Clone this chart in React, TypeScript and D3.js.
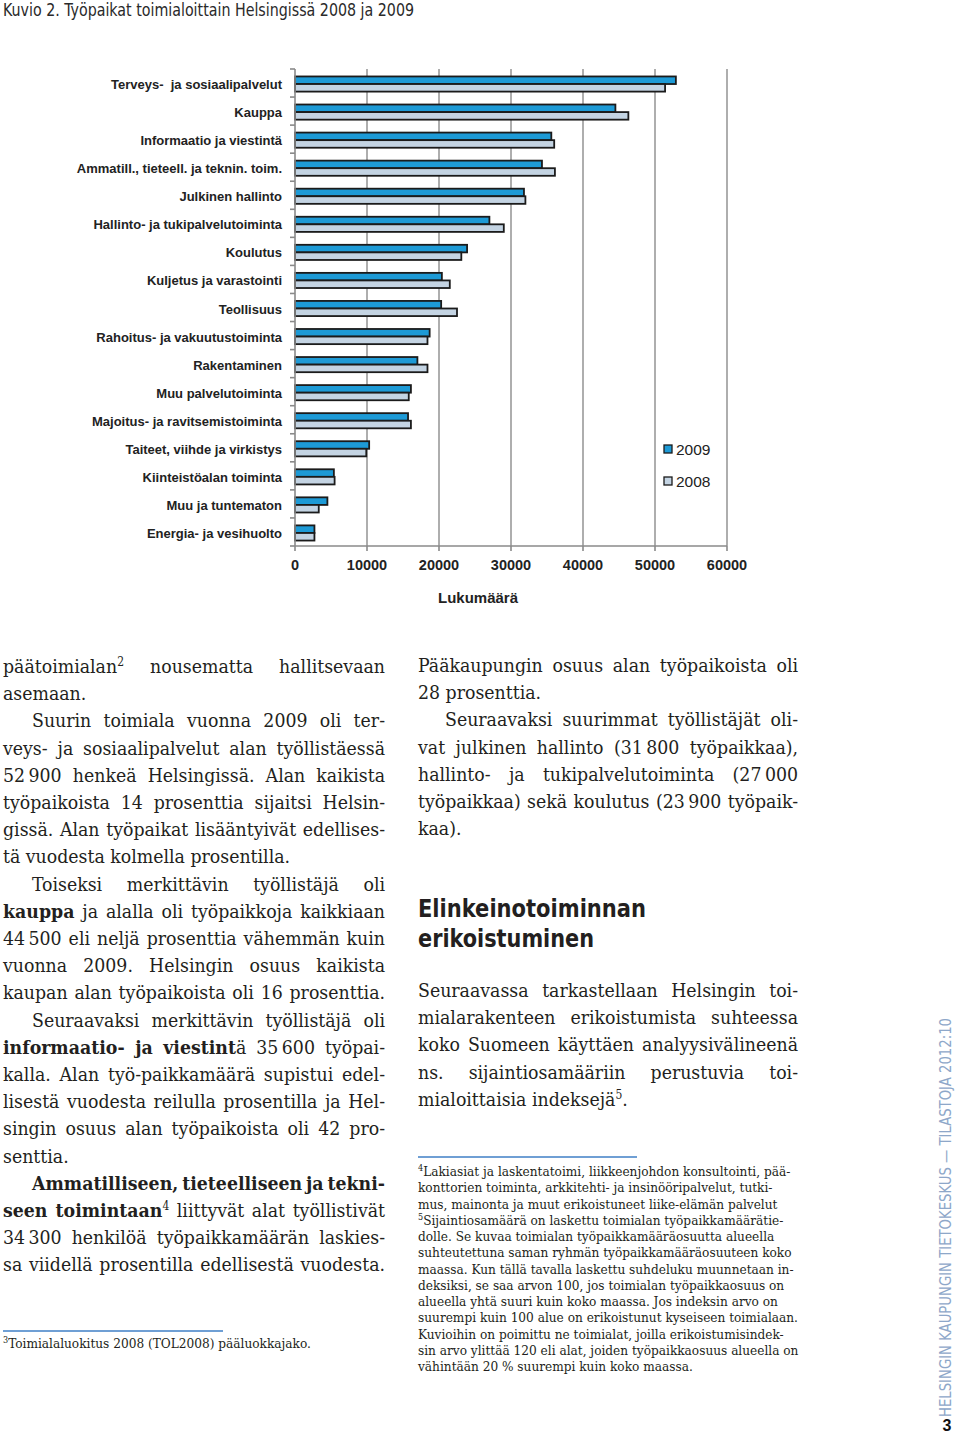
import React, { useLayoutEffect, useRef } from "react";
import * as d3 from "d3";

// ---------- Chart data ----------
const categories = [
  "Terveys-  ja sosiaalipalvelut",
  "Kauppa",
  "Informaatio ja viestintä",
  "Ammatill., tieteell. ja teknin. toim.",
  "Julkinen hallinto",
  "Hallinto- ja tukipalvelutoiminta",
  "Koulutus",
  "Kuljetus ja varastointi",
  "Teollisuus",
  "Rahoitus- ja vakuutustoiminta",
  "Rakentaminen",
  "Muu palvelutoiminta",
  "Majoitus- ja ravitsemistoiminta",
  "Taiteet, viihde ja virkistys",
  "Kiinteistöalan toiminta",
  "Muu ja tuntematon",
  "Energia- ja vesihuolto",
];
const values2009 = [52900, 44500, 35600, 34300, 31800, 27000, 23900, 20400, 20300, 18700, 17000, 16100, 15700, 10300, 5400, 4500, 2700];
const values2008 = [51400, 46300, 36000, 36100, 32000, 29000, 23100, 21500, 22500, 18400, 18400, 15800, 16100, 9900, 5500, 3300, 2700];
const years = ["2009", "2008"];
const legendOrder = ["2009", "2008"];
const xTicks = [0, 10000, 20000, 30000, 40000, 50000, 60000];

const title = "Kuvio 2. Työpaikat toimialoittain Helsingissä 2008 ja 2009";
const axisTitle = "Lukumäärä";

// ---------- Page text ----------
type Line = { t: string; indent?: boolean; justify?: boolean };
const leftColumn: Line[] = [
  { t: "päätoimialan^2 nousematta hallitsevaan", justify: true },
  { t: "asemaan." },
  { t: "Suurin toimiala vuonna 2009 oli ter-", indent: true, justify: true },
  { t: "veys- ja sosiaalipalvelut alan työllistäessä", justify: true },
  { t: "52\u202F900 henkeä Helsingissä. Alan kaikista", justify: true },
  { t: "työpaikoista 14 prosenttia sijaitsi Helsin-", justify: true },
  { t: "gissä. Alan työpaikat lisääntyivät edellises-", justify: true },
  { t: "tä vuodesta kolmella prosentilla." },
  { t: "Toiseksi merkittävin työllistäjä oli", indent: true, justify: true },
  { t: "**kauppa** ja alalla oli työpaikkoja kaikkiaan", justify: true },
  { t: "44\u202F500 eli neljä prosenttia vähemmän kuin", justify: true },
  { t: "vuonna 2009. Helsingin osuus kaikista", justify: true },
  { t: "kaupan alan työpaikoista oli 16 prosenttia.", justify: true },
  { t: "Seuraavaksi merkittävin työllistäjä oli", indent: true, justify: true },
  { t: "**informaatio- ja viestint**ä 35\u202F600 työpai-", justify: true },
  { t: "kalla. Alan työ-paikkamäärä supistui edel-", justify: true },
  { t: "lisestä vuodesta reilulla prosentilla ja Hel-", justify: true },
  { t: "singin osuus alan työpaikoista oli 42 pro-", justify: true },
  { t: "senttia." },
  { t: "**Ammatilliseen, tieteelliseen ja tekni-**", indent: true, justify: true },
  { t: "**seen toimintaan**^4 liittyvät alat työllistivät", justify: true },
  { t: "34\u202F300 henkilöä työpaikkamäärän laskies-", justify: true },
  { t: "sa viidellä prosentilla edellisestä vuodesta.", justify: true },
];
const rightColumnTop: Line[] = [
  { t: "Pääkaupungin osuus alan työpaikoista oli", justify: true },
  { t: "28 prosenttia." },
  { t: "Seuraavaksi suurimmat työllistäjät oli-", indent: true, justify: true },
  { t: "vat julkinen hallinto (31\u202F800 työpaikkaa),", justify: true },
  { t: "hallinto- ja tukipalvelutoiminta (27\u202F000", justify: true },
  { t: "työpaikkaa) sekä koulutus (23\u202F900 työpaik-", justify: true },
  { t: "kaa)." },
];
const heading = ["Elinkeinotoiminnan", "erikoistuminen"];
const rightColumnBottom: Line[] = [
  { t: "Seuraavassa tarkastellaan Helsingin toi-", justify: true },
  { t: "mialarakenteen erikoistumista suhteessa", justify: true },
  { t: "koko Suomeen käyttäen analyysivälineenä", justify: true },
  { t: "ns. sijaintiosamääriin perustuvia toi-", justify: true },
  { t: "mialoittaisia indeksejä^5." },
];
const footnote3 = "^3Toimialaluokitus 2008 (TOL2008) pääluokkajako.";
const footnotes45 = [
  "^4Lakiasiat ja laskentatoimi, liikkeenjohdon konsultointi, pää-",
  "konttorien toiminta, arkkitehti- ja insinööripalvelut, tutki-",
  "mus, mainonta ja muut erikoistuneet liike-elämän palvelut",
  "^5Sijaintiosamäärä on laskettu toimialan työpaikkamäärätie-",
  "dolle. Se kuvaa toimialan työpaikkamääräosuutta alueella",
  "suhteutettuna saman ryhmän työpaikkamääräosuuteen koko",
  "maassa. Kun tällä tavalla laskettu suhdeluku muunnetaan in-",
  "deksiksi, se saa arvon 100, jos toimialan työpaikkaosuus on",
  "alueella yhtä suuri kuin koko maassa. Jos indeksin arvo on",
  "suurempi kuin 100 alue on erikoistunut kyseiseen toimialaan.",
  "Kuvioihin on poimittu ne toimialat, joilla erikoistumisindek-",
  "sin arvo ylittää 120 eli alat, joiden työpaikkaosuus alueella on",
  "vähintään 20 % suurempi kuin koko maassa.",
];
const sideText = "HELSINGIN KAUPUNGIN TIETOKESKUS — TILASTOJA 2012:10";
const pageNumber = "3";

// ---------- Styles ----------
const SANS = "'Liberation Sans', Arial, Helvetica, sans-serif";
const NARROW = "'Liberation Sans Narrow', 'DejaVu Sans Condensed', 'Arial Narrow', sans-serif";
const SERIF = "'DejaVu Serif Condensed', 'DejaVu Serif', serif";
const TEXT = "#231f20";
const BLUE = "#1d9ad6";
const LIGHT = "#c4d4e3";
const GRID = "#9a9a9a";
const BODY_SIZE = 19.3;

function Rich({ s, supSize }: { s: string; supSize: number }) {
  const parts = s.split(/(\*\*[^*]+\*\*|\^\d)/).filter((p) => p !== "");
  return (
    <>
      {parts.map((p, i) => {
        if (p.startsWith("**"))
          return (
            <tspan key={i} fontWeight="bold">
              {p.slice(2, -2)}
            </tspan>
          );
        if (p.startsWith("^"))
          return (
            <tspan key={i} baselineShift="super" fontSize={supSize}>
              {p.slice(1)}
            </tspan>
          );
        return <tspan key={i}>{p}</tspan>;
      })}
    </>
  );
}

function Column({
  lines,
  x0,
  x1,
  y0,
  pitch,
  size,
  indent,
}: {
  lines: Line[];
  x0: number;
  x1: number;
  y0: number;
  pitch: number;
  size: number;
  indent: number;
}) {
  return (
    <g fontFamily={SERIF} fontSize={size} fill={TEXT}>
      {lines.map((l, i) => {
        const x = x0 + (l.indent ? indent : 0);
        return (
          <text key={i} x={x} y={y0 + i * pitch} data-jw={l.justify ? x1 - x : undefined}>
            <Rich s={l.t} supSize={size * 0.62} />
          </text>
        );
      })}
    </g>
  );
}

export default function App() {
  const ref = useRef<SVGSVGElement>(null);

  useLayoutEffect(() => {
    const svg = ref.current;
    if (!svg) return;
    svg.querySelectorAll<SVGTextElement>("text[data-jw]").forEach((el) => {
      const target = +(el.getAttribute("data-jw") || 0);
      el.setAttribute("word-spacing", "0");
      const natural = el.getComputedTextLength();
      const spaces = (el.textContent || "").split(" ").length - 1;
      if (spaces > 0) el.setAttribute("word-spacing", String((target - natural) / spaces));
    });
  }, []);

  // Scales
  const x = d3.scaleLinear().domain([0, 60000]).range([295, 727]);
  const y = d3
    .scaleBand<string>()
    .domain(categories)
    .range([69, 546])
    .paddingInner(0.46)
    .paddingOuter(0.23);
  const sub = d3.scaleBand<string>().domain(years).range([0, y.bandwidth()]);
  const color = d3.scaleOrdinal<string, string>().domain(years).range([BLUE, LIGHT]);
  const step = y.step();
  const [yTop, yBottom] = y.range();
  const boundaries = d3.range(categories.length + 1).map((k) => yTop + k * step);

  const series = [
    { year: "2009", values: values2009 },
    { year: "2008", values: values2008 },
  ];

  return (
    <svg
      ref={ref}
      width={960}
      height={1435}
      viewBox="0 0 960 1435"
      style={{ position: "absolute", left: 0, top: 0, background: "#fff" }}
    >
      <rect width={960} height={1435} fill="#fff" />

      {/* Title */}
      <text
        x={3}
        y={16}
        fontFamily={NARROW}
        fontSize={18.5}
        fill="#2a2a2a"
        textLength={411}
        lengthAdjust="spacingAndGlyphs"
      >
        {title}
      </text>

      {/* Gridlines */}
      <g stroke={GRID} strokeWidth={1.6}>
        {xTicks
          .filter((t) => t > 0)
          .map((t) => (
            <line key={t} x1={x(t)} x2={x(t)} y1={yTop} y2={yBottom} />
          ))}
      </g>

      {/* Bars */}
      {series.map((s) => (
        <g key={s.year} fill={color(s.year)} stroke="#1b1b1b" strokeWidth={1.8}>
          {categories.map((c, i) => (
            <rect
              key={c}
              x={x(0)}
              y={(y(c) as number) + (sub(s.year) as number) + 1}
              width={x(s.values[i]) - x(0)}
              height={sub.bandwidth()}
            />
          ))}
        </g>
      ))}

      {/* Axes */}
      <g stroke="#8a8a8a" strokeWidth={1.6}>
        <line x1={x(0)} x2={x(0)} y1={yTop} y2={yBottom} />
        {boundaries.map((b, k) => (
          <line key={k} x1={x(0) - 5} x2={x(0)} y1={b} y2={b} />
        ))}
        <line x1={x(0)} x2={x(60000)} y1={yBottom} y2={yBottom} />
        {xTicks.map((t) => (
          <line key={t} x1={x(t)} x2={x(t)} y1={yBottom} y2={yBottom + 5} />
        ))}
      </g>

      {/* Category labels */}
      <g fontFamily={SANS} fontWeight="bold" fontSize={13} fill="#222" textAnchor="end">
        {categories.map((c) => (
          <text key={c} x={282} y={(y(c) as number) - step * 0.23 + step / 2 + 6} style={{ whiteSpace: "pre" }}>
            {c}
          </text>
        ))}
      </g>

      {/* Tick labels */}
      <g fontFamily={SANS} fontWeight="bold" fontSize={14.5} fill="#222" textAnchor="middle">
        {xTicks.map((t) => (
          <text key={t} x={x(t)} y={570}>
            {String(t)}
          </text>
        ))}
      </g>
      <text x={478} y={603} fontFamily={SANS} fontWeight="bold" fontSize={15} fill="#222" textAnchor="middle">
        {axisTitle}
      </text>

      {/* Legend */}
      {legendOrder.map((yr, i) => (
        <g key={yr}>
          <rect x={664} y={445 + i * 32} width={8} height={8} fill={color(yr)} stroke="#1b1b1b" strokeWidth={1.3} />
          <text x={676} y={455 + i * 31.5} fontFamily={SANS} fontSize={15.5} fill="#222">
            {yr}
          </text>
        </g>
      ))}

      {/* Body text */}
      <Column lines={leftColumn} x0={3} x1={385} y0={673} pitch={27.2} size={BODY_SIZE} indent={29} />
      <Column lines={rightColumnTop} x0={418} x1={798} y0={672} pitch={27.2} size={BODY_SIZE} indent={27} />
      <g fontFamily={NARROW} fontWeight="bold" fontSize={25.5} fill={TEXT}>
        <text x={418} y={917} textLength={228} lengthAdjust="spacingAndGlyphs">
          {heading[0]}
        </text>
        <text x={418} y={947} textLength={176} lengthAdjust="spacingAndGlyphs">
          {heading[1]}
        </text>
      </g>
      <Column lines={rightColumnBottom} x0={418} x1={798} y0={997} pitch={27.2} size={BODY_SIZE} indent={0} />

      {/* Footnote rules */}
      <line x1={3} x2={223} y1={1331} y2={1331} stroke="#6f9fd4" strokeWidth={2} />
      <line x1={418} x2={637} y1={1157} y2={1157} stroke="#6f9fd4" strokeWidth={2} />

      {/* Footnotes */}
      <text x={3} y={1348} fontFamily={SERIF} fontSize={13.5} fill={TEXT}>
        <Rich s={footnote3} supSize={9} />
      </text>
      <g fontFamily={SERIF} fontSize={13.5} fill={TEXT}>
        {footnotes45.map((f, i) => (
          <text key={i} x={418} y={1176 + i * 16.25}>
            <Rich s={f} supSize={9} />
          </text>
        ))}
      </g>

      {/* Side text */}
      <text
        transform="translate(951,1417) rotate(-90)"
        fontFamily={NARROW}
        fontSize={16.5}
        fill="#8ea7c9"
        textLength={399}
        lengthAdjust="spacingAndGlyphs"
      >
        {sideText}
      </text>
      <text x={947} y={1431} fontFamily={SANS} fontWeight="bold" fontSize={16} fill="#111" textAnchor="middle">
        {pageNumber}
      </text>
    </svg>
  );
}
